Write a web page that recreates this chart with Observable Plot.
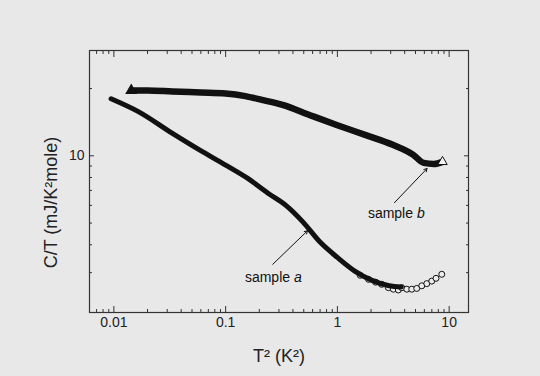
<!DOCTYPE html>
<html><head><meta charset="utf-8">
<script src="https://cdn.jsdelivr.net/npm/d3@7"></script>
<script src="https://cdn.jsdelivr.net/npm/@observablehq/plot@0.6"></script>
<style>
html,body{margin:0;padding:0;background:#e8e8e8;}
</style></head><body><div id="chart"></div>
<script>
// sample b (filled triangles, dense band)
const sampleBX = [0.0143, 0.02, 0.0334, 0.06, 0.1, 0.15, 0.211, 0.323, 0.569, 1.0, 1.77, 3.13, 4.78, 5.91, 7.31, 8.72];
const sampleBY = [19.6, 19.6, 19.4, 19.2, 19.0, 18.5, 17.8, 16.9, 15.2, 13.7, 12.4, 11.2, 10.1, 9.3, 9.2, 9.4];
// sample a (open circles, dense band)
const sampleAX = [0.00944, 0.0164, 0.0334, 0.0588, 0.1, 0.159, 0.243, 0.346, 0.493, 0.703, 1.0, 1.43, 2.04, 2.9, 3.73];
const sampleAY = [18.0, 15.8, 12.6, 10.6, 9.08, 7.9, 6.77, 6.0, 5.05, 4.1, 3.51, 3.05, 2.77, 2.62, 2.59];
// sample a, separated open circles at the high-T end
const circlesX = [1.6, 1.9, 2.2, 2.49, 2.86, 3.17, 3.51, 3.77, 4.18, 4.63, 5.13, 5.69, 6.31, 6.99, 7.63, 8.59];
const circlesY = [2.92, 2.8, 2.72, 2.66, 2.57, 2.53, 2.51, 2.57, 2.53, 2.53, 2.55, 2.62, 2.68, 2.75, 2.83, 2.95];

const xMajor = [0.01, 0.1, 1, 10];
const xTickLabels = ["0.01", "0.1", "1", "10"];
const xMinor = [0.007, 0.008, 0.009, 0.02, 0.03, 0.04, 0.05, 0.06, 0.07, 0.08, 0.09,
  0.2, 0.3, 0.4, 0.5, 0.6, 0.7, 0.8, 0.9, 2, 3, 4, 5, 6, 7, 8, 9];
const yMajor = [10];
const yTickLabels = ["10"];
const yMinor = [3, 4, 5, 6, 7, 8, 9, 20];

const xLabel = "T² (K²)";
const yLabel = "C/T (mJ/K²mole)";

// annotations
const annWords = ["sample", "sample"];
const annLetters = ["a", "b"];
const annX = [0.377, 4.75];
const annY = [2.85, 5.54];
const arrowX1 = [0.264, 3.24];
const arrowY1 = [3.27, 6.17];
const arrowX2 = [0.54, 6.34];
const arrowY2 = [4.62, 8.77];

const idx = (n) => d3.range(n);
const A = sampleAX.map((x, i) => ({x, y: sampleAY[i]}));
const B = sampleBX.map((x, i) => ({x, y: sampleBY[i]}));
const C = circlesX.map((x, i) => ({x, y: circlesY[i]}));
const ink = "#111";
const tickCol = "#333";

const plot = Plot.plot({
  width: 540, height: 376,
  marginLeft: 89, marginRight: 72, marginTop: 50, marginBottom: 64,
  style: {background: "#e8e8e8", color: "#222", fontFamily: "'Liberation Sans', Arial, sans-serif", fontSize: "14px"},
  x: {type: "log", domain: [0.00605, 14.9]},
  y: {type: "log", domain: [1.99, 29.6]},
  marks: [
    Plot.frame({stroke: tickCol, strokeWidth: 1.2}),
    Plot.axisX(xMajor, {anchor: "bottom", tickSize: -6, fill: "none", label: null, stroke: tickCol}),
    Plot.axisX(xMinor, {anchor: "bottom", tickSize: -3, fill: "none", label: null, stroke: tickCol}),
    Plot.axisX(xMajor, {anchor: "top", tickSize: -6, fill: "none", label: null, stroke: tickCol}),
    Plot.axisX(xMinor, {anchor: "top", tickSize: -3, fill: "none", label: null, stroke: tickCol}),
    Plot.axisX(xMajor, {anchor: "bottom", tickSize: 0, tickPadding: 5, label: null, fontSize: 14, fill: "#222", tickFormat: d => xTickLabels[xMajor.indexOf(d)]}),
    Plot.axisY(yMajor, {anchor: "left", tickSize: -5, fill: "none", label: null, stroke: tickCol}),
    Plot.axisY(yMinor, {anchor: "left", tickSize: -3, fill: "none", label: null, stroke: tickCol}),
    Plot.axisY(yMajor, {anchor: "right", tickSize: -5, fill: "none", label: null, stroke: tickCol}),
    Plot.axisY(yMinor, {anchor: "right", tickSize: -3, fill: "none", label: null, stroke: tickCol}),
    Plot.axisY(yMajor, {anchor: "left", tickSize: 0, tickPadding: 5, label: null, fontSize: 14, fill: "#222", tickFormat: d => yTickLabels[yMajor.indexOf(d)]}),
    // sample a
    Plot.dot(C, {x: "x", y: "y", r: 3, stroke: ink, strokeWidth: 1, fill: "#ececec"}),
    Plot.line(A, {x: "x", y: "y", stroke: ink, strokeWidth: 5, curve: "monotone-x", strokeLinecap: "round"}),
    // sample b
    Plot.line(B, {x: "x", y: "y", stroke: ink, strokeWidth: 6.5, curve: "monotone-x", strokeLinecap: "butt"}),
    Plot.dot(B.slice(0, 1), {x: "x", y: "y", symbol: "triangle", r: 4.5, fill: ink}),
    Plot.dot(B.slice(-1), {x: "x", y: "y", symbol: "triangle", r: 3.5, fill: "#f4f4f4", stroke: ink, strokeWidth: 1}),
    // annotations
    Plot.arrow(idx(2), {x1: i => arrowX1[i], y1: i => arrowY1[i], x2: i => arrowX2[i], y2: i => arrowY2[i], stroke: ink, strokeWidth: 1, headLength: 5}),
    Plot.text(idx(2), {x: i => annX[i], y: i => annY[i], text: i => annWords[i], textAnchor: "end", fontSize: 14, fill: "#111"}),
    Plot.text(idx(2), {x: i => annX[i], y: i => annY[i], text: i => annLetters[i], textAnchor: "start", dx: 4, fontSize: 14, fontStyle: "italic", fill: "#111"}),
    // axis titles
    Plot.text([xLabel], {frameAnchor: "bottom", textAnchor: "middle", lineAnchor: "middle", dy: 44, text: d => d, fontSize: 18, fill: "#222"}),
    Plot.text([yLabel], {frameAnchor: "left", textAnchor: "middle", lineAnchor: "middle", dx: -38, dy: 21, rotate: -90, text: d => d, fontSize: 18, fill: "#222"})
  ]
});
document.getElementById("chart").appendChild(plot);
</script>
</body></html>
